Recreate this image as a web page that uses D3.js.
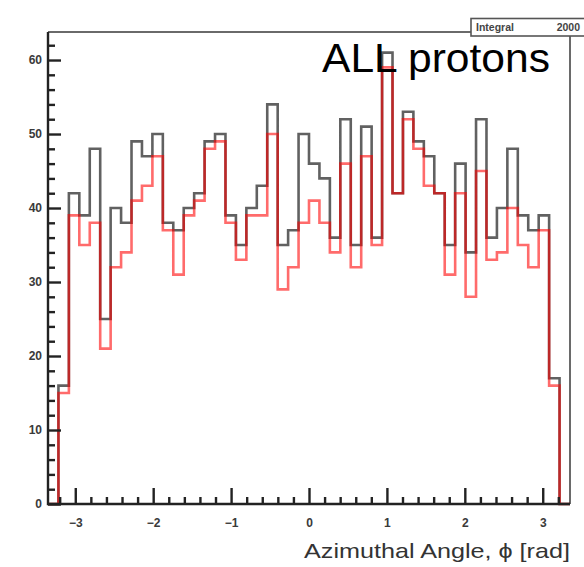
<!DOCTYPE html>
<html>
<head>
<meta charset="utf-8">
<script src="https://cdn.jsdelivr.net/npm/d3@7"></script>
<style>
  html, body { margin: 0; padding: 0; background: #ffffff; }
  svg { display: block; }
</style>
</head>
<body>
<svg id="chart" width="584" height="567"></svg>
<script>
// ---- data ----
const xMin = -3.35, xMax = 3.35, nBins = 50;
const allCounts = [0, 16, 42, 39, 48, 25, 40, 38, 49, 47, 50, 38, 37, 40, 42, 49, 50, 39, 35, 40,
  43, 54, 35, 37, 50, 46, 44, 36, 52, 35, 51, 36, 61, 42, 53, 49, 47, 42, 35, 46,
  34, 52, 36, 40, 48, 39, 37, 39, 17, 0];
const redCounts = [0, 15, 39, 35, 38, 21, 32, 34, 41, 43, 47, 37, 31, 39, 41, 48, 49, 38, 33, 39,
  39, 50, 29, 32, 38, 41, 38, 34, 46, 32, 47, 35, 59, 42, 52, 48, 43, 42, 31, 42,
  28, 45, 33, 34, 40, 35, 32, 37, 16, 0];
const xMajorTicks = [-3, -2, -1, 0, 1, 2, 3];
const xTickLabels = ["\u22123", "\u22122", "\u22121", "0", "1", "2", "3"];
const yMajorTicks = [0, 10, 20, 30, 40, 50, 60];
const yMax = 63.8;
const statLabel = "Integral", statValue = "2000";
const annotation = "ALL protons";
const xTitle = "Azimuthal Angle, \u03D5 [rad]";

// ---- layout ----
const svg = d3.select("#chart");
const L = 48, R = 570, T = 31.9, B = 504;
const x = d3.scaleLinear().domain([xMin, xMax]).range([L, R]);
const y = d3.scaleLinear().domain([0, yMax]).range([B, T]);
const bw = (xMax - xMin) / nBins;

// frame (top and right, gray)
svg.append("path")
  .attr("d", `M${L},${T}H${R}V${B}`)
  .attr("fill", "none").attr("stroke", "#6a6a6a").attr("stroke-width", 2);

// histograms
function stepPoints(counts) {
  const pts = counts.map((v, i) => [xMin + i * bw, v]);
  pts.push([xMax, counts[counts.length - 1]]);
  return pts;
}
const line = d3.line().x(d => x(d[0])).y(d => y(d[1])).curve(d3.curveStepAfter);
svg.append("path").datum(stepPoints(allCounts))
  .attr("d", line).attr("fill", "none")
  .attr("stroke", "#000").attr("stroke-opacity", 0.62).attr("stroke-width", 2.6);
svg.append("path").datum(stepPoints(redCounts))
  .attr("d", line).attr("fill", "none")
  .attr("stroke", "#ff0000").attr("stroke-opacity", 0.58).attr("stroke-width", 2.6);

// x axis
const xMinor = d3.range(-16, 17).map(k => k * 0.2).filter(v => v >= xMin && v <= xMax && Math.abs(Math.round(v) - v) > 1e-6);
const gxMinor = svg.append("g").attr("transform", `translate(0,${B})`)
  .call(d3.axisBottom(x).tickValues(xMinor).tickSize(-7).tickFormat(""));
const gx = svg.append("g").attr("transform", `translate(0,${B})`)
  .call(d3.axisBottom(x).tickValues(xMajorTicks).tickSize(-16).tickPadding(14)
    .tickFormat((d, i) => xTickLabels[i]));
[gxMinor, gx].forEach(g => {
  g.select(".domain").remove();
  g.selectAll(".tick line").attr("stroke", "#222").attr("stroke-width", 2.4);
});
gx.selectAll("text").attr("font-family", "Liberation Sans, Arial, sans-serif")
  .attr("font-size", 12).attr("font-weight", "bold").attr("fill", "#3a3a3a");

// y axis
const yMinor = d3.range(0, 64, 2).filter(v => v % 10 !== 0);
const gyMinor = svg.append("g").attr("transform", `translate(${L},0)`)
  .call(d3.axisLeft(y).tickValues(yMinor).tickSize(-7).tickFormat(""));
const gy = svg.append("g").attr("transform", `translate(${L},0)`)
  .call(d3.axisLeft(y).tickValues(yMajorTicks).tickSize(-13).tickPadding(6));
[gyMinor, gy].forEach(g => {
  g.select(".domain").remove();
  g.selectAll(".tick line").attr("stroke", "#222").attr("stroke-width", 2.4);
});
gy.selectAll("text").attr("font-family", "Liberation Sans, Arial, sans-serif")
  .attr("font-size", 12).attr("font-weight", "bold").attr("fill", "#3a3a3a");

// axis lines
svg.append("path").attr("d", `M${L},${T}V${B}H${R}`)
  .attr("fill", "none").attr("stroke", "#222").attr("stroke-width", 2.4);

// stats box
svg.append("rect").attr("x", 471).attr("y", 18.5).attr("width", 130).attr("height", 17.5)
  .attr("fill", "#fff").attr("stroke", "#555").attr("stroke-width", 1.6);
svg.append("text").attr("x", 476).attr("y", 30.5).text(statLabel)
  .attr("font-family", "Liberation Sans, Arial, sans-serif").attr("font-size", 10.5)
  .attr("font-weight", "bold").attr("fill", "#444");
svg.append("text").attr("x", 580).attr("y", 31).attr("text-anchor", "end").text(statValue)
  .attr("font-family", "Liberation Sans, Arial, sans-serif").attr("font-size", 10.5)
  .attr("font-weight", "bold").attr("fill", "#444");

// annotation
svg.append("text").attr("x", 322).attr("y", 72).text(annotation)
  .attr("font-family", "Liberation Sans, Arial, sans-serif").attr("font-size", 40)
  .attr("textLength", 228).attr("lengthAdjust", "spacingAndGlyphs")
  .attr("fill", "#000");

// x title
svg.append("text").attr("x", 570).attr("y", 558).attr("text-anchor", "end").text(xTitle)
  .attr("font-family", "Liberation Sans, Arial, sans-serif").attr("font-size", 21)
  .attr("textLength", 266).attr("lengthAdjust", "spacingAndGlyphs")
  .attr("fill", "#333");
</script>
</body>
</html>
